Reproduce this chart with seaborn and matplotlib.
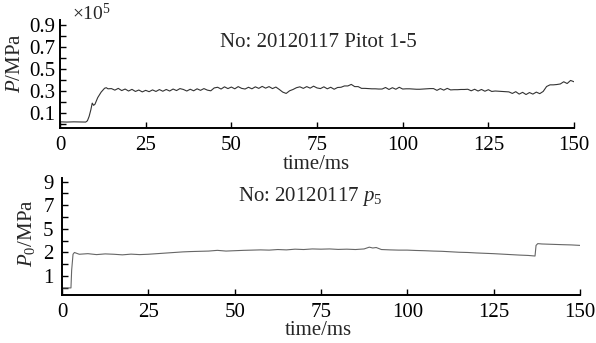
import matplotlib
matplotlib.use("Agg")
import matplotlib.pyplot as plt
import seaborn as sns
import pandas as pd

# Pitot pressure trace (top)
t_top = [0, 2, 4, 6, 7.5, 8, 8.5, 9, 9.4, 9.8, 10.2, 11, 12, 13, 13.5, 14,
         15, 16, 17, 18, 19, 20, 21, 22, 23, 24, 25,
         26, 27, 28, 29, 30, 31, 32, 33, 34, 35,
         36, 37, 38, 39, 40, 41, 42, 43, 44, 45,
         46, 47, 48, 49, 50, 51, 52, 53, 54, 55,
         56, 57, 58, 59, 60, 61, 62, 63, 64, 65, 66, 67, 68, 69, 70,
         71, 72, 73, 74, 75, 76, 77, 78, 79, 80,
         81, 82, 83, 84, 85, 86, 87, 88, 89, 90,
         91, 92, 93, 94, 95, 96, 97, 98, 99, 100,
         101, 102, 103, 104, 105, 106, 107, 108, 109, 110,
         111, 112, 113, 114, 115, 116, 117, 118, 119, 120,
         121, 122, 123, 124, 125, 126, 127, 128, 129, 130,
         131, 132, 133, 134, 135, 136, 137, 138, 139, 140,
         141, 142, 143, 144, 145, 146, 147, 148, 149, 150]
p_top = [0.020, 0.018, 0.020, 0.019, 0.018, 0.030, 0.070, 0.130, 0.190, 0.170, 0.180, 0.240, 0.290, 0.325, 0.330, 0.320,
         0.322, 0.308, 0.324, 0.304, 0.318, 0.300, 0.315, 0.296, 0.309, 0.292, 0.306,
         0.294, 0.310, 0.296, 0.313, 0.298, 0.314, 0.300, 0.318, 0.304, 0.322,
         0.314, 0.300, 0.316, 0.302, 0.320, 0.306, 0.322, 0.308, 0.302, 0.328,
         0.334, 0.318, 0.338, 0.322, 0.336, 0.320, 0.340, 0.324, 0.318, 0.334,
         0.320, 0.338, 0.324, 0.342, 0.326, 0.340, 0.322, 0.336, 0.314, 0.290, 0.278, 0.302, 0.314, 0.330, 0.338,
         0.324, 0.340, 0.326, 0.344, 0.328, 0.322, 0.338, 0.320, 0.334, 0.316,
         0.332, 0.334, 0.346, 0.346, 0.360, 0.340, 0.340, 0.324, 0.324, 0.322,
         0.320, 0.320, 0.318, 0.318, 0.332, 0.314, 0.330, 0.316, 0.334, 0.318,
         0.320, 0.320, 0.318, 0.316, 0.316, 0.318, 0.319, 0.322, 0.322, 0.306,
         0.322, 0.308, 0.324, 0.310, 0.312, 0.312, 0.314, 0.314, 0.316, 0.302,
         0.316, 0.300, 0.314, 0.298, 0.312, 0.296, 0.300, 0.298, 0.296, 0.294,
         0.292, 0.278, 0.294, 0.272, 0.288, 0.268, 0.286, 0.272, 0.290, 0.276,
         0.296, 0.341, 0.356, 0.356, 0.359, 0.364, 0.384, 0.368, 0.396, 0.384]

# p5 trace (bottom)
t_bot = [0, 1, 2, 2.6, 2.8, 3.2, 3.6, 5, 7.5, 10, 12.5, 15, 17.5, 20, 22.5, 25,
         27.5, 30, 32.5, 35, 37.5, 40, 42.5, 45, 47.5, 50, 52.5, 55, 57.5, 60,
         62.5, 65, 67.5, 70, 72.5, 75, 77.5, 80, 82.5, 85, 87.5, 89, 90, 91, 92.5,
         95, 97.5, 100, 102.5, 105, 107.5, 110, 112.5, 115, 117.5, 120, 122.5,
         125, 127.5, 130, 132.5, 135, 137, 137.3, 137.8, 139, 141, 143, 145, 147.5, 150]
p_bot = [0.0, 0.0, 0.0, 0.0, 1.5, 2.85, 3.0, 2.85, 2.9, 2.82, 2.88, 2.85, 2.8, 2.86, 2.82, 2.85,
         2.9, 2.95, 3.0, 3.05, 3.08, 3.1, 3.12, 3.18, 3.12, 3.15, 3.18, 3.2, 3.22, 3.2,
         3.25, 3.22, 3.28, 3.25, 3.3, 3.28, 3.3, 3.26, 3.28, 3.25, 3.3, 3.45, 3.38, 3.42, 3.25,
         3.22, 3.2, 3.2, 3.17, 3.15, 3.12, 3.1, 3.06, 3.02, 3.0, 2.96, 2.93,
         2.9, 2.86, 2.82, 2.78, 2.75, 2.7, 3.6, 3.75, 3.72, 3.7, 3.68, 3.66, 3.64, 3.6]

x_ticks = [0, 25, 50, 75, 100, 125, 150]
top_yticks = [0.1, 0.3, 0.5, 0.7, 0.9]
top_ylabels = ["0.1", "0.3", "0.5", "0.7", "0.9"]
bot_yticks = [1, 3, 5, 7, 9]
bot_ylabels = ["1", "2", "5", "7", "9"]

df_top = pd.DataFrame({"t": t_top, "p": p_top})
df_bot = pd.DataFrame({"t": t_bot, "p": p_bot})

sns.set_style("ticks")
plt.rcParams["font.family"] = ["Liberation Serif", "DejaVu Serif"]
plt.rcParams["mathtext.fontset"] = "custom"
plt.rcParams["mathtext.rm"] = "Liberation Serif"
plt.rcParams["mathtext.it"] = "Liberation Serif:italic"
plt.rcParams["font.size"] = 15

fig = plt.figure(figsize=(5.96, 3.43), dpi=100)
ax1 = fig.add_axes([0.1007, 0.6268, 0.8624, 0.3149])
ax2 = fig.add_axes([0.104, 0.1399, 0.869, 0.341])

sns.lineplot(data=df_top, x="t", y="p", ax=ax1, color="#333333", linewidth=0.8)
sns.lineplot(data=df_bot, x="t", y="p", ax=ax2, color="#666666", linewidth=0.8)

for ax in (ax1, ax2):
    sns.despine(ax=ax)
    ax.set_xlim(0, 150)
    ax.set_xticks(x_ticks)
    ax.set_xticklabels([str(v) for v in x_ticks])
    ax.tick_params(which="both", direction="in", length=4, width=1, colors="black",
                   labelsize=15)
    ax.tick_params(axis="x", pad=6)
    for s in ax.spines.values():
        s.set_linewidth(1.4)
        s.set_color("black")
    ax.set_xlabel("time/ms", fontsize=15)

ax1.set_ylim(-0.036, 0.945)
ax1.set_yticks(top_yticks)
ax1.set_yticklabels(top_ylabels)
ax1.set_yticks([0.0, 0.2, 0.4, 0.6, 0.8], minor=True)
ax1.tick_params(axis="y", pad=3.5)
ax1.set_ylabel("$P$/MPa", fontsize=15)
ax1.yaxis.set_label_coords(-0.068, 0.60)
ax1.xaxis.set_label_coords(0.498, -0.25)
ax1.text(0.502, 0.796, "No: 20120117 Pitot 1-5", transform=ax1.transAxes,
         ha="center", va="center", fontsize=15)
ax1.text(0.023, 1.056, r"$\times10^5$", transform=ax1.transAxes,
         ha="left", va="center", fontsize=14)

ax2.set_ylim(-0.6, 9.3)
ax2.set_yticks(bot_yticks)
ax2.set_yticklabels(bot_ylabels)
ax2.set_yticks([0, 2, 4, 6, 8], minor=True)
ax2.tick_params(axis="y", pad=6)
ax2.set_ylabel("$P_0$/MPa", fontsize=15)
ax2.yaxis.set_label_coords(-0.048, 0.53)
ax2.xaxis.set_label_coords(0.494, -0.225)
ax2.text(0.479, 0.838, "No: 20120117 $p_5$", transform=ax2.transAxes,
         ha="center", va="center", fontsize=15)

fig.savefig("out.png", dpi=100)
